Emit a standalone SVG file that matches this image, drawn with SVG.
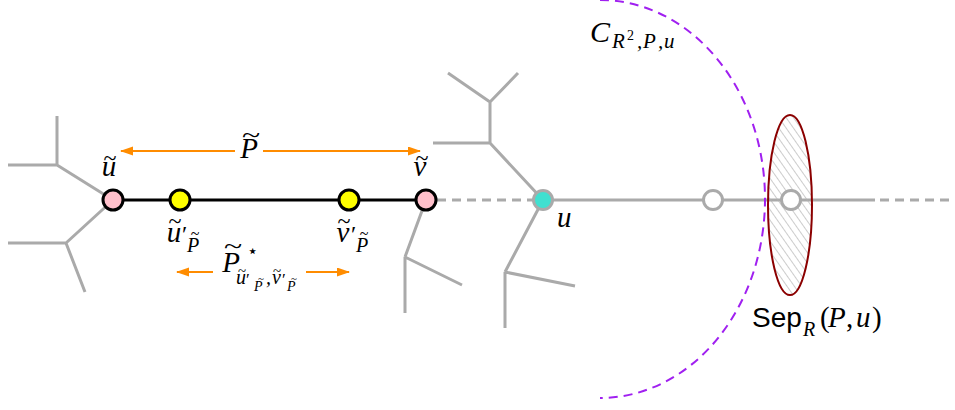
<svg xmlns="http://www.w3.org/2000/svg" width="955" height="410" viewBox="0 0 955 410">
<style>
.g{stroke:#aaaaaa;stroke-width:3;fill:none;stroke-linecap:butt}
.gd{stroke:#aaaaaa;stroke-width:3;fill:none;stroke-dasharray:9 6}
.bk{stroke:#000;stroke-width:3}
.ar{stroke:#ff8c00;stroke-width:2;fill:none}
.m{font-family:"Liberation Serif","DejaVu Serif",serif;font-style:italic;fill:#000}
.r{font-family:"Liberation Serif","DejaVu Serif",serif;fill:#000}
.s{font-family:"Liberation Sans","DejaVu Sans",sans-serif;fill:#000}
.tl{font-family:"Liberation Serif","DejaVu Serif",serif;fill:#000;text-anchor:middle}
</style>
<defs>
<marker id="ah" markerUnits="userSpaceOnUse" markerWidth="13" markerHeight="10" refX="12" refY="4.5" orient="auto">
<path d="M0,0 L13,4.5 L0,9 z" fill="#ff8c00"/>
</marker>
<pattern id="hatch" width="6" height="6" patternUnits="userSpaceOnUse" patternTransform="rotate(-35)">
<line x1="0" y1="0" x2="0" y2="6" stroke="#b0b0b0" stroke-width="1.3"/>
</pattern>
</defs>
<rect width="955" height="410" fill="#fff"/>

<g id="connectors">
<path class="g" d="M113,200 L57,165 M57,165 L57,116 M57,165 L8,165 M113,200 L66,243 M66,243 L8,243 M66,243 L85,292"/>
<path class="g" d="M426,200 L405,257 M405,257 L405,313 M405,257 L462,285"/>
<path class="g" d="M543,200 L490,143 M490,143 L433,143 M490,143 L490,102 M490,102 L448,73 M490,102 L518,73 M543,200 L505,272 M505,272 L505,328 M505,272 L575,286"/>
<line class="gd" x1="426" y1="200" x2="543" y2="200" stroke-dashoffset="4"/>
<line class="g" x1="543" y1="200" x2="875" y2="200"/>
<line class="gd" x1="875" y1="200" x2="955" y2="200" stroke-dashoffset="10"/>
<line class="bk" x1="113" y1="200" x2="426" y2="200"/>
<line class="ar" x1="235" y1="151" x2="121" y2="151" marker-end="url(#ah)"/>
<line class="ar" x1="263" y1="151" x2="420" y2="151" marker-end="url(#ah)"/>
<line class="ar" x1="213" y1="272" x2="177" y2="272" marker-end="url(#ah)"/>
<line class="ar" x1="306" y1="272" x2="349" y2="272" marker-end="url(#ah)"/>
</g>

<g id="separator">
<ellipse cx="790" cy="205" rx="22" ry="90" fill="url(#hatch)" stroke="#8b0000" stroke-width="2"/>
</g>

<g id="ball">
<path d="M600,0 A165,199 0 0 1 600,398" fill="none" stroke="#a020f0" stroke-width="2" stroke-dasharray="9 6"/>
</g>

<g id="node-ut">
<circle cx="113" cy="200" r="10" fill="#ffc0cb" stroke="#000" stroke-width="3"/>
<text class="m" x="109" y="176" font-size="29" text-anchor="middle">u</text>
<text class="tl" x="110" y="166" font-size="24">~</text>
</g>
<g id="node-up">
<circle cx="180" cy="200" r="10" fill="#ffff00" stroke="#000" stroke-width="3"/>
<text class="m" x="174" y="242" font-size="29" text-anchor="middle">u</text>
<text class="tl" x="175" y="229" font-size="24">~</text>
<text class="r" x="182" y="242" font-size="24">′</text>
<text class="m" x="187" y="252" font-size="20">P</text>
<text class="tl" x="195" y="238.5" font-size="16">~</text>
</g>
<g id="node-vp">
<circle cx="349" cy="200" r="10" fill="#ffff00" stroke="#000" stroke-width="3"/>
<text class="m" x="343" y="242" font-size="29" text-anchor="middle">v</text>
<text class="tl" x="344" y="229" font-size="24">~</text>
<text class="r" x="351" y="242" font-size="24">′</text>
<text class="m" x="356" y="252" font-size="20">P</text>
<text class="tl" x="364" y="238.5" font-size="16">~</text>
</g>
<g id="node-vt">
<circle cx="426" cy="200" r="10" fill="#ffc0cb" stroke="#000" stroke-width="3"/>
<text class="m" x="420" y="176" font-size="29" text-anchor="middle">v</text>
<text class="tl" x="422" y="166" font-size="24">~</text>
</g>
<g id="node-u">
<circle cx="543" cy="200" r="9.5" fill="#40e0d0" stroke="#aaaaaa" stroke-width="3"/>
<text class="m" x="557" y="227" font-size="29">u</text>
</g>
<g id="node-w1">
<circle cx="713" cy="200" r="9.5" fill="#fff" stroke="#aaaaaa" stroke-width="3"/>
</g>
<g id="node-w2">
<circle cx="791" cy="200" r="9.5" fill="#fff" stroke="#aaaaaa" stroke-width="3"/>
</g>

<g id="labels">
<text class="m" x="249" y="158" font-size="29" text-anchor="middle">P</text>
<text class="tl" font-size="24" transform="translate(251,142.5) scale(1.4,1)">~</text>

<text class="m" x="231" y="272" font-size="29" text-anchor="middle">P</text>
<text class="tl" font-size="24" transform="translate(233,254) scale(1.4,1)">~</text>
<text class="r" x="247" y="257" font-size="18">⋆</text>
<text class="m" x="236" y="284" font-size="20">u</text>
<text class="tl" x="242" y="276" font-size="15">~</text>
<text class="r" x="246" y="285" font-size="17">′</text>
<text class="m" x="254" y="291" font-size="14">P</text>
<text class="tl" x="261" y="282" font-size="11">~</text>
<text class="m" x="266" y="284" font-size="20">,</text>
<text class="m" x="272" y="284" font-size="20">v</text>
<text class="tl" x="277" y="276" font-size="15">~</text>
<text class="r" x="282" y="285" font-size="17">′</text>
<text class="m" x="287" y="291" font-size="14">P</text>
<text class="tl" x="294" y="282" font-size="11">~</text>

<text class="m" x="590" y="42" font-size="30">C</text>
<text class="m" x="612" y="48" font-size="21">R</text>
<text class="r" x="627" y="40" font-size="14">2</text>
<text class="m" x="637" y="48" font-size="21">,</text>
<text class="m" x="643" y="48" font-size="21">P</text>
<text class="m" x="658" y="48" font-size="21">,</text>
<text class="m" x="664" y="48" font-size="21">u</text>

<text class="s" x="752" y="327" font-size="28">Sep</text>
<text class="m" x="803" y="336" font-size="20">R</text>
<text class="r" x="820" y="327" font-size="29">(</text>
<text class="m" x="828" y="327" font-size="29">P</text>
<text class="r" x="846" y="327" font-size="29">,</text>
<text class="m" x="856" y="327" font-size="29">u</text>
<text class="r" x="872" y="327" font-size="29">)</text>
</g>
</svg>
